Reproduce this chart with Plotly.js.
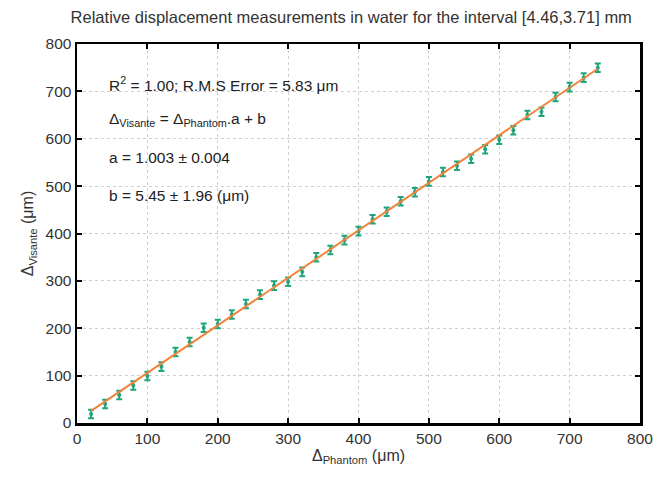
<!DOCTYPE html>
<html>
<head>
<meta charset="utf-8">
<script src="https://cdn.plot.ly/plotly-3.0.1.min.js"></script>
<style>html,body{margin:0;padding:0;background:#fff;}#chart{width:659px;height:479px;}</style>
</head>
<body>
<div id="chart"></div>
<script>
// Data
var phantom = [20, 40, 60, 80, 100, 120, 140, 160, 180, 200, 220, 240, 260, 280, 300, 320, 340, 360,
  380, 400, 420, 440, 460, 480, 500, 520, 540, 560, 580, 600, 620, 640, 660, 680, 700, 720, 740];
var visante = [19, 40, 59, 79, 99, 119, 150, 171, 201, 209, 229, 251, 271, 290, 298, 319, 350, 365,
  386, 405, 430, 446, 468, 487, 510, 530, 543, 558, 578, 598, 618, 650, 657, 688, 709, 729, 750];
var errY = [9, 9, 9, 9, 9, 9, 9, 9, 9, 9, 9, 9, 9, 9, 9, 9, 9, 9,
  9, 9, 9, 9, 9, 9, 9, 9, 9, 9, 9, 9, 9, 9, 9, 9, 9, 9, 9];
var fitA = 1.003;
var fitB = 5.45;
var fitX = [20, 740];
var fitY = fitX.map(function (x) { return fitA * x + fitB; });

var titleText = "Relative displacement measurements in water for the interval [4.46,3.71] mm";
var annLines = [
  "R<sup>2</sup> = 1.00; R.M.S Error = 5.83 μm",
  "Δ<sub>Visante</sub> = Δ<sub>Phantom</sub>.a + b",
  "a = 1.003 ± 0.004",
  "b = 5.45 ± 1.96 (μm)"
];
var annY = [715, 640, 560, 480];

var font = "Liberation Sans, Arial, sans-serif";

var traces = [
  {
    x: phantom, y: visante, type: "scatter", mode: "markers",
    marker: {color: "#1fa47c", size: 4, symbol: "circle"},
    error_y: {type: "data", array: errY, visible: true, color: "#1fa47c", thickness: 2, width: 3},
    showlegend: false, hoverinfo: "skip"
  },
  {
    x: fitX, y: fitY, type: "scatter", mode: "lines",
    line: {color: "#f0843c", width: 2},
    showlegend: false, hoverinfo: "skip"
  }
];

var annotations = annLines.map(function (t, i) {
  return {
    text: t, x: 42, y: annY[i], xref: "x", yref: "y",
    xanchor: "left", yanchor: "middle", showarrow: false,
    font: {family: font, size: 15.5, color: "#222"}
  };
});

var axisCommon = {
  range: [0, 800], dtick: 100, showgrid: true,
  gridcolor: "#cfcfcf", griddash: "dot", gridwidth: 1,
  zeroline: false, showline: true, linecolor: "#000", linewidth: 2.5, mirror: "ticks",
  ticks: "inside", ticklen: 5, tickwidth: 2, tickcolor: "#000",
  tickfont: {family: font, size: 15.5, color: "#333"}
};

var layout = {
  width: 659, height: 479,
  margin: {l: 77, r: 19, t: 44, b: 56},
  paper_bgcolor: "#fff", plot_bgcolor: "#fff",
  title: {text: titleText, font: {family: font, size: 16.5, color: "#333"}, x: 0.533, xanchor: "center", y: 0.964, yanchor: "middle"},
  xaxis: Object.assign({}, axisCommon, {
    title: {text: "Δ<sub>Phantom</sub> (μm)", font: {family: font, size: 16, color: "#333"}, standoff: 4}
  }),
  yaxis: Object.assign({}, axisCommon, {
    title: {text: "Δ<sub>Visante</sub> (μm)", font: {family: font, size: 16, color: "#333"}, standoff: 8}
  }),
  annotations: annotations
};

Plotly.newPlot("chart", traces, layout, {displayModeBar: false, staticPlot: true});
</script>
</body>
</html>
